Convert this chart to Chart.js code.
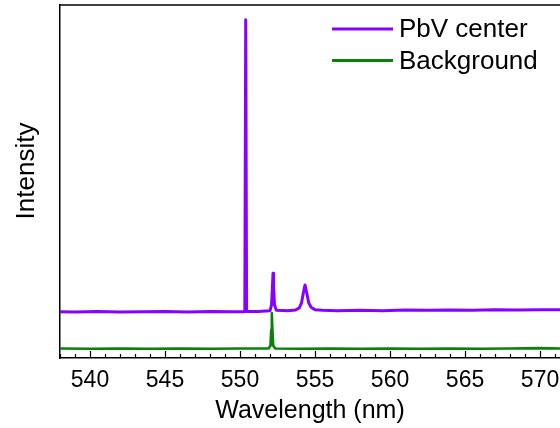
<!DOCTYPE html>
<html>
<head>
<meta charset="utf-8">
<script src="https://cdn.jsdelivr.net/npm/chart.js@4"></script>
<style>
    html, body { margin: 0; padding: 0; background: #fff; }
    #wrap { width: 560px; height: 428px; }
</style>
</head>
<body>
<div id="wrap"><canvas id="spectrum" width="560" height="428"></canvas></div>
<script>
'use strict';

// PbV center spectrum (wavelength in nm, intensity in arb. units)
var pbvWavelength = [538.0, 539.0, 540.5, 542.0, 543.5, 545.0, 546.5, 548.0, 549.5, 550.32,
    550.38, 550.44, 551.2, 552.0, 552.1, 552.16, 552.2, 552.24, 552.3, 552.42,
    553.2, 553.7, 553.95, 554.1, 554.22, 554.33, 554.45, 554.58, 554.75, 555.0,
    555.5, 556.5, 558.0, 559.5, 561.0, 562.5, 564.0, 565.5, 567.0, 568.5, 570.0, 571.33];
var pbvIntensity = [13.1, 13.0, 13.2, 13.0, 13.1, 13.2, 13.0, 13.2, 13.1, 13.1,
    95.8, 13.2, 13.2, 13.4, 15.0, 20.0, 24.0, 20.0, 15.0, 13.5,
    13.4, 13.6, 14.2, 15.6, 18.4, 20.7, 18.4, 15.6, 14.3, 13.7,
    13.5, 13.4, 13.5, 13.4, 13.6, 13.5, 13.6, 13.5, 13.7, 13.6, 13.7, 13.7];

// Background spectrum
var bgWavelength = [538.0, 540.0, 542.0, 544.0, 546.0, 548.0, 550.0, 551.9, 552.03, 552.08,
    552.12, 552.16, 552.21, 552.35, 554.0, 556.0, 558.0, 560.0, 562.0, 564.0,
    566.0, 568.0, 570.0, 571.33];
var bgIntensity = [2.7, 2.6, 2.7, 2.6, 2.7, 2.6, 2.7, 2.7, 3.5, 8.0,
    12.7, 8.0, 3.5, 2.7, 2.6, 2.7, 2.6, 2.7, 2.6, 2.7,
    2.6, 2.7, 2.8, 2.7];

var seriesLabels = ['PbV center', 'Background'];
var seriesColors = ['#8a00ff', '#0b800b'];

var xMin = 538;
var xMax = 571.33;

var FONT = '"Liberation Sans", Arial, sans-serif';

function toPoints(xs, ys) {
    var pts = [];
    for (var i = 0; i < xs.length; i++) {
        pts.push({ x: xs[i], y: ys[i] });
    }
    return pts;
}

// inward ticks, top frame line, y title and the legend
var framePlugin = {
    id: 'frame',
    afterDraw: function (chart) {
        var ctx = chart.ctx;
        var area = chart.chartArea;
        var xs = chart.scales.x;
        ctx.save();
        ctx.strokeStyle = '#000';
        ctx.lineWidth = 1.5;
        ctx.beginPath();
        ctx.moveTo(area.left, area.top);
        ctx.lineTo(area.right, area.top);
        ctx.stroke();

        ctx.lineWidth = 1.2;
        for (var i = 0; i < xs.ticks.length; i++) {
            var v = xs.ticks[i].value;
            var px = Math.round(xs.getPixelForValue(v)) + 0.5;
            var len = (v % 5 === 0) ? 7 : 4;
            ctx.beginPath();
            ctx.moveTo(px, area.bottom);
            ctx.lineTo(px, area.bottom - len);
            ctx.stroke();
        }

        // y axis title
        ctx.fillStyle = '#000';
        ctx.font = '26px ' + FONT;
        ctx.textAlign = 'center';
        ctx.textBaseline = 'middle';
        ctx.translate(27, 171);
        ctx.rotate(-Math.PI / 2);
        ctx.fillText('Intensity', 0, 0);
        ctx.setTransform(1, 0, 0, 1, 0, 0);

        // legend
        var ds = chart.data.datasets;
        ctx.font = '26px ' + FONT;
        ctx.textAlign = 'left';
        for (var j = 0; j < ds.length; j++) {
            var y = 29 + j * 31.5;
            ctx.strokeStyle = ds[j].borderColor;
            ctx.lineWidth = 3;
            ctx.beginPath();
            ctx.moveTo(332, y);
            ctx.lineTo(393, y);
            ctx.stroke();
            ctx.fillText(ds[j].label, 399, y + 1);
        }
        ctx.restore();
    }
};

new Chart(document.getElementById('spectrum'), {
    type: 'line',
    data: {
        datasets: [{
            label: seriesLabels[0],
            data: toPoints(pbvWavelength, pbvIntensity),
            borderColor: seriesColors[0],
            borderWidth: 3,
            borderJoinStyle: 'round',
            pointRadius: 0,
            tension: 0
        }, {
            label: seriesLabels[1],
            data: toPoints(bgWavelength, bgIntensity),
            borderColor: seriesColors[1],
            borderWidth: 2.6,
            borderJoinStyle: 'round',
            pointRadius: 0,
            tension: 0
        }]
    },
    options: {
        responsive: false,
        animation: false,
        layout: { padding: { top: 5, right: 0, left: 0, bottom: 0 } },
        plugins: {
            legend: { display: false },
            tooltip: { enabled: false }
        },
        scales: {
            x: {
                type: 'linear',
                min: xMin,
                max: xMax,
                border: { display: true, color: '#000', width: 1.5 },
                grid: { display: false, drawTicks: false },
                ticks: {
                    stepSize: 1,
                    includeBounds: false,
                    autoSkip: false,
                    maxRotation: 0,
                    padding: 9,
                    color: '#000',
                    font: { family: FONT, size: 23 },
                    callback: function (value) {
                        return value % 5 === 0 ? String(value) : '';
                    }
                },
                title: {
                    display: true,
                    text: 'Wavelength (nm)',
                    color: '#000',
                    font: { family: FONT, size: 25 },
                    padding: { top: 0, bottom: 2 }
                },
                afterFit: function (scale) {
                    scale.height = 70;
                    scale.paddingLeft = 0;
                    scale.paddingRight = 0;
                }
            },
            y: {
                min: 0,
                max: 100,
                border: { display: true, color: '#000', width: 1.5 },
                grid: { display: false, drawTicks: false },
                ticks: { display: false },
                afterFit: function (scale) {
                    scale.width = 60;
                    scale.paddingTop = 0;
                    scale.paddingBottom = 0;
                }
            }
        }
    },
    plugins: [framePlugin]
});
</script>
</body>
</html>
